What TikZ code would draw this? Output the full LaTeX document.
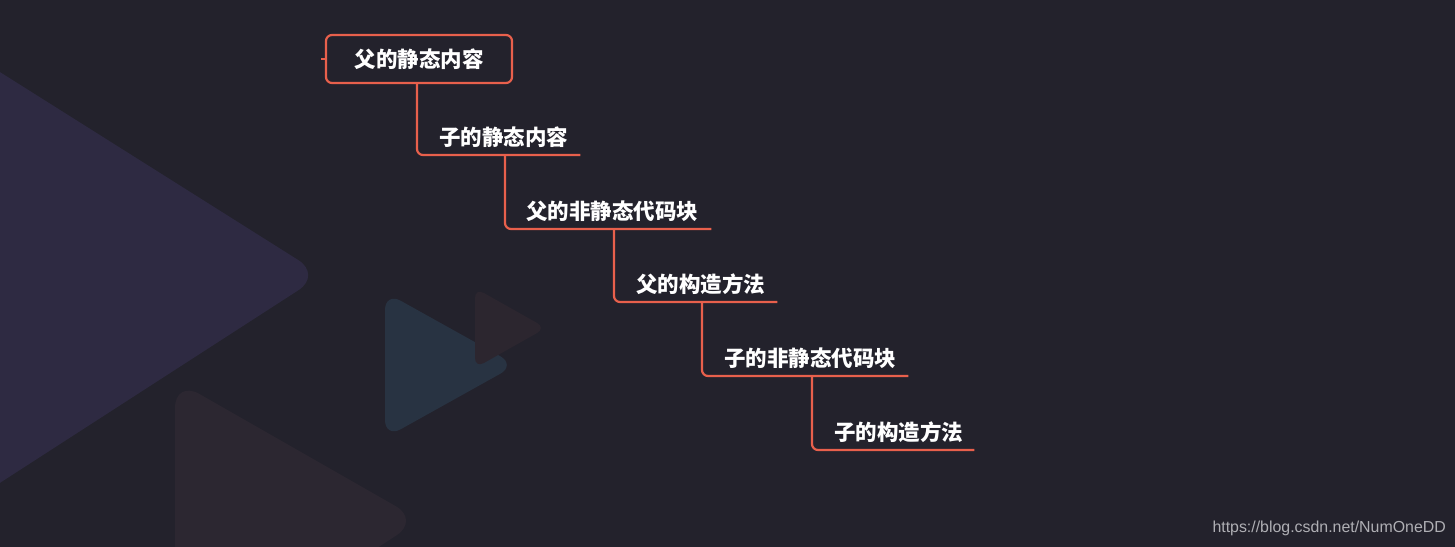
\documentclass[tikz,border=0pt]{standalone}
\usepackage{fontspec}
\setmainfont{Liberation Sans}
\newfontfamily\cjk{Noto Sans CJK SC}
\definecolor{bgc}{RGB}{35,34,44}
\definecolor{tripurple}{RGB}{46,42,66}
\definecolor{triblue}{RGB}{40,51,66}
\definecolor{tribrown}{RGB}{44,39,49}
\definecolor{trired}{RGB}{44,38,47}
\definecolor{coral}{RGB}{232,96,76}
\definecolor{wmgray}{RGB}{175,175,180}
\tikzset{
  branch/.style={draw=coral, line width=2.2bp, rounded corners=6bp},
  rootbox/.style={draw=coral, line width=2.2bp, rounded corners=6bp, minimum width=186bp, minimum height=48bp, inner sep=0pt, font=\cjk\bfseries\fontsize{21.5bp}{25bp}\selectfont, text=white},
  topic/.style={anchor=south west, inner sep=0pt, align=left, text depth=9bp, font=\cjk\bfseries\fontsize{21.5bp}{25bp}\selectfont, text=white},
  bgtri/.style={rounded corners=28bp}
}
\begin{document}
\begin{tikzpicture}[x=1bp, y=-1bp]
\fill[bgc] (0,0) rectangle (1455,547);
\useasboundingbox (0,0) rectangle (1455,547);
% background decorative triangles
\begin{scope}
\clip (0,0) rectangle (1455,547);
\fill[tripurple, bgtri] (-70,28) -- (322,275) -- (-70,528) -- cycle;
\fill[tribrown, bgtri] (175,380) -- (420,520) -- (175,680) -- cycle;
\fill[triblue, rounded corners=18bp] (385,292) -- (516,365) -- (385,438) -- cycle;
\fill[trired, rounded corners=10bp] (475,288) -- (546,328) -- (475,368) -- cycle;
\end{scope}
% nodes
\node[rootbox] (root) at (419,59) {父的静态内容};
\node[topic, text width=163bp] (c1) at (417,155) {\hspace*{22bp}子的静态内容};
\node[topic, text width=206bp] (c2) at (505,229) {\hspace*{21bp}父的非静态代码块};
\node[topic, text width=163bp] (c3) at (614,302) {\hspace*{22bp}父的构造方法};
\node[topic, text width=206bp] (c4) at (702,376) {\hspace*{22bp}子的非静态代码块};
\node[topic, text width=162bp] (c5) at (812,450) {\hspace*{22bp}子的构造方法};
\coordinate (stub) at (321,59);
% connectors
\draw[coral, line width=1.5bp] (root.west) -- (stub);
\draw[branch] (root.south -| c1.south west) |- (c1.south east);
\draw[branch] (c1.south -| c2.south west) |- (c2.south east);
\draw[branch] (c2.south -| c3.south west) |- (c3.south east);
\draw[branch] (c3.south -| c4.south west) |- (c4.south east);
\draw[branch] (c4.south -| c5.south west) |- (c5.south east);
% watermark
\node[anchor=base east, inner sep=0pt, text=wmgray, font=\fontsize{15.9bp}{19bp}\selectfont] (wm) at (1446,532) {https://blog.csdn.net/NumOneDD};
\end{tikzpicture}
\end{document}
